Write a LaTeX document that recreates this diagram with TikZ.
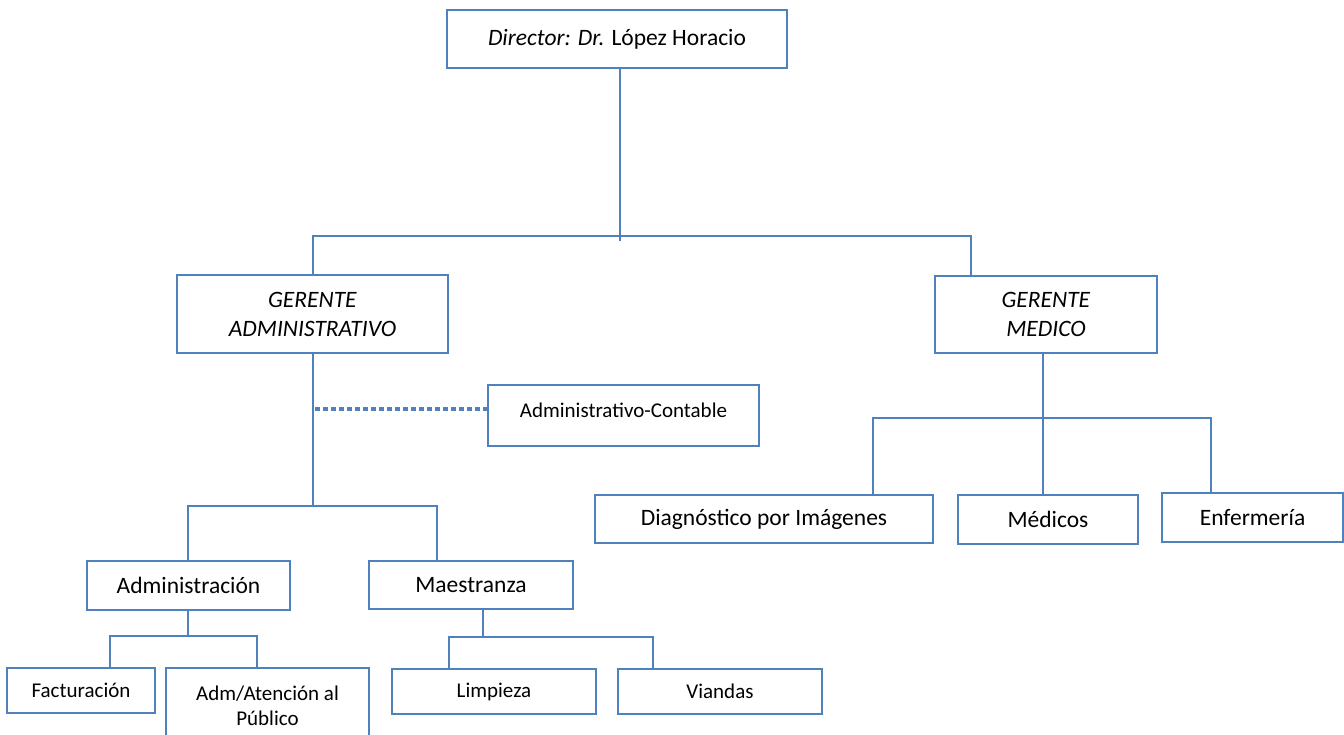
\documentclass[tikz,border=0pt]{standalone}
\usepackage{fontspec}
\setmainfont{Carlito}
\definecolor{orgblue}{HTML}{4F81BD}
\tikzset{
  box/.style={draw=orgblue, line width=2.4pt, fill=white, inner sep=0pt, align=center},
  big/.style={font=\fontsize{23.5}{29}\selectfont},
  small/.style={font=\fontsize{21}{25}\selectfont},
  link/.style={draw=orgblue, line width=2.4pt},
  dotlink/.style={draw=orgblue, line width=3.5pt, dash pattern=on 5pt off 3pt},
}
\begin{document}
\begin{tikzpicture}[x=1pt,y=-1pt]
\useasboundingbox (0,0) rectangle (1344,735);
\clip (0,0) rectangle (1344,735);

% top level
\node[box,big,minimum width=340pt,minimum height=58pt] (dir) at (617,39) {\textit{Director: Dr.} López Horacio};

% managers
\node[box,big,minimum width=271pt,minimum height=78pt] (gadm) at (312.5,314) {\textit{GERENTE}\\\textit{ADMINISTRATIVO}};
\node[box,big,minimum width=222pt,minimum height=77pt] (gmed) at (1046,314.5) {\textit{GERENTE}\\\textit{MEDICO}};

% staff unit
\node[box,small,minimum width=271pt,minimum height=61pt] (ac) at (623.5,415.5) {\raisebox{5pt}[\height][\depth]{Administrativo-Contable}};

% administrative branch
\node[box,big,minimum width=203pt,minimum height=49pt] (adm) at (188.5,585.5) {Administración};
\node[box,big,minimum width=204pt,minimum height=48pt] (mae) at (471,585) {Maestranza};
\node[box,small,minimum width=148pt,minimum height=45pt] (fac) at (81,690.5) {Facturación};
\node[box,small,minimum width=203pt,minimum height=76pt] (ate) at (267.5,706) {Adm/Atención al\\Público};
\node[box,small,minimum width=204pt,minimum height=45pt] (lim) at (494,691.5) {Limpieza};
\node[box,small,minimum width=204pt,minimum height=45pt] (via) at (720,691.5) {Viandas};

% medical branch
\node[box,big,minimum width=338pt,minimum height=48pt] (dia) at (764,519) {Diagnóstico por Imágenes};
\node[box,big,minimum width=180pt,minimum height=49pt] (med) at (1048,519.5) {Médicos};
\node[box,big,minimum width=181pt,minimum height=49pt] (enf) at (1252.5,517.5) {Enfermería};

% director to managers
\coordinate (t0) at (620,241);
\coordinate (hL) at (313,236);
\coordinate (hR) at (971,236);
\draw[link] (dir.south -| t0) -- (t0);
\draw[link] (gadm.north -| hL) -- (hL) -- (hR) -- (gmed.north -| hR);

% administrative manager
\coordinate (a1) at (313,506);
\coordinate (a2) at (188,506);
\coordinate (a3) at (437,506);
\coordinate (d0) at (315,409);
\draw[link] (gadm.south -| a1) -- (a1);
\draw[link] (adm.north -| a2) -- (a2) -- (a3) -- (mae.north -| a3);
\draw[dotlink] (d0) -- (ac.west |- d0);

% Administración
\coordinate (b1) at (188,636);
\coordinate (b2) at (110,636);
\coordinate (b3) at (257,636);
\draw[link] (adm.south -| b1) -- (b1);
\draw[link] (fac.north -| b2) -- (b2) -- (b3) -- (ate.north -| b3);

% Maestranza
\coordinate (c1) at (483,637);
\coordinate (c2) at (449,637);
\coordinate (c3) at (653,637);
\draw[link] (mae.south -| c1) -- (c1);
\draw[link] (lim.north -| c2) -- (c2) -- (c3) -- (via.north -| c3);

% medical manager
\coordinate (m1) at (1043,418);
\coordinate (m2) at (873,418);
\coordinate (m3) at (1211,418);
\draw[link] (gmed.south -| m1) -- (med.north -| m1);
\draw[link] (dia.north -| m2) -- (m2) -- (m3) -- (enf.north -| m3);
\end{tikzpicture}
\end{document}
